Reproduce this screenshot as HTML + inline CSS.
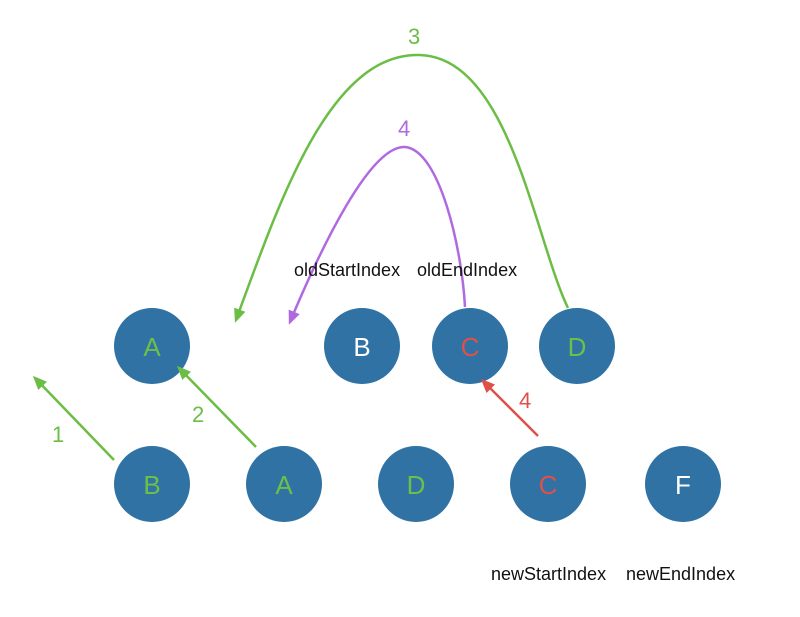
<!DOCTYPE html>
<html><head><style>
body{margin:0;background:#fff;width:800px;height:612px;overflow:hidden}
svg text{font-family:"Liberation Sans",sans-serif}
</style></head><body>
<svg width="800" height="612" xmlns="http://www.w3.org/2000/svg">
<defs>
<marker id="g" markerWidth="14" markerHeight="12" refX="11" refY="6" orient="auto" markerUnits="userSpaceOnUse"><path d="M0,0 L14,6 L0,12 Z" fill="#6bbd45"/></marker>
<marker id="p" markerWidth="14" markerHeight="12" refX="11" refY="6" orient="auto" markerUnits="userSpaceOnUse"><path d="M0,0 L14,6 L0,12 Z" fill="#b06ae0"/></marker>
<marker id="r" markerWidth="14" markerHeight="12" refX="11" refY="6" orient="auto" markerUnits="userSpaceOnUse"><path d="M0,0 L14,6 L0,12 Z" fill="#e0504a"/></marker>
</defs>
<g fill="#2f72a3">
<circle cx="152" cy="346" r="38"/><circle cx="362" cy="346" r="38"/><circle cx="470" cy="346" r="38"/><circle cx="577" cy="346" r="38"/>
<circle cx="152" cy="484" r="38"/><circle cx="284" cy="484" r="38"/><circle cx="416" cy="484" r="38"/><circle cx="548" cy="484" r="38"/><circle cx="683" cy="484" r="38"/>
</g>
<g font-size="26" text-anchor="middle">
<text x="152" y="356" fill="#6cc04a">A</text><text x="362" y="356" fill="#fff">B</text><text x="470" y="356" fill="#e0504a">C</text><text x="577" y="356" fill="#6cc04a">D</text>
<text x="152" y="494" fill="#6cc04a">B</text><text x="284" y="494" fill="#6cc04a">A</text><text x="416" y="494" fill="#6cc04a">D</text><text x="548" y="494" fill="#e0504a">C</text><text x="683" y="494" fill="#fff">F</text>
</g>
<g fill="none" stroke-width="2.5">
<path d="M568,308 C535,240 510,58 420,55 C330,52 280,200 236,320" stroke="#6bbd45" marker-end="url(#g)"/>
<path d="M465,307 C462,250 440,150 405,147 C370,145 320,250 290,322" stroke="#b06ae0" marker-end="url(#p)"/>
<line x1="114" y1="460" x2="35" y2="378" stroke="#6bbd45" marker-end="url(#g)"/>
<line x1="256" y1="447" x2="179" y2="368" stroke="#6bbd45" marker-end="url(#g)"/>
<line x1="538" y1="436" x2="483" y2="381" stroke="#e0504a" marker-end="url(#r)"/>
</g>
<g font-size="22">
<text x="408" y="44" fill="#6bbd45">3</text>
<text x="398" y="136" fill="#b06ae0">4</text>
<text x="52" y="442" fill="#6bbd45">1</text>
<text x="192" y="422" fill="#6bbd45">2</text>
<text x="519" y="408" fill="#e0504a">4</text>
</g>
<g font-size="18" fill="#111">
<text x="294" y="276">oldStartIndex</text><text x="417" y="276">oldEndIndex</text>
<text x="491" y="580">newStartIndex</text><text x="626" y="580">newEndIndex</text>
</g>
</svg>
</body></html>
